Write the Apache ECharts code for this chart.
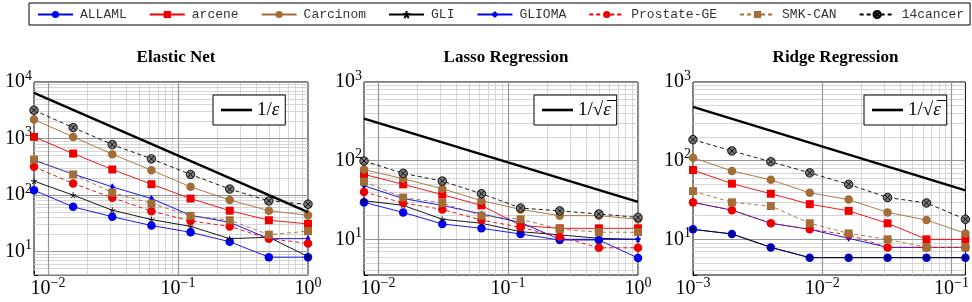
<!DOCTYPE html>
<html>
<head>
<meta charset="utf-8">
<script src="https://cdn.jsdelivr.net/npm/echarts@6/dist/echarts.min.js"></script>
<style>
html, body { margin: 0; padding: 0; background: #fff; }
#main { width: 972px; height: 302px; }
</style>
</head>
<body>
<div id="main"></div>
<script>
// step sizes on the x axis
var epsEN = [0.0078125, 0.015625, 0.03125, 0.0625, 0.125, 0.25, 0.5, 1];
var epsLasso = [0.0078125, 0.015625, 0.03125, 0.0625, 0.125, 0.25, 0.5, 1];
var epsRidge = [0.001, 0.002, 0.004, 0.008, 0.016, 0.032, 0.064, 0.128];

var datasetNames = ['ALLAML', 'arcene', 'Carcinom', 'GLI', 'GLIOMA', 'Prostate-GE', 'SMK-CAN', '14cancer'];

// Elastic Net
var enALLAML   = [122, 62, 41.5, 29, 22, 15, 8, 8];
var enArcene   = [1070, 543, 284, 156, 87, 53, 36, 31];
var enCarcinom = [2165, 1070, 530, 276, 140, 82, 53, 44];
var enGLI      = [177, 100, 54, 37, 28, 17, 18, 8.2];
var enGLIOMA   = [415, 235, 140, 87, 44, 33, 17, 17];
var enProstate = [316, 161, 90, 52, 35, 28, 17, 14];
var enSMK      = [426, 232, 111, 71, 43, 36, 20, 23];
var en14cancer = [3162, 1563, 783, 437, 232, 128, 79, 69];
var enRef      = [6400, 50];   // 1/eps guide, at first and last step

// Lasso Regression
var laALLAML   = [29.5, 22, 15.7, 13.8, 11.7, 9.8, 9.8, 5.8];
var laArcene   = [67, 50, 37, 27, 15, 13.8, 13.8, 13.8];
var laCarcinom = [77, 59, 44, 31, 24, 20, 20, 18];
var laGLI      = [31, 27, 18, 16, 12.5, 11.4, 10.3, 10];
var laGLIOMA   = [48, 33, 27, 21, 16.4, 10, 10, 10];
var laProstate = [40, 29, 24, 17.6, 14.2, 10.8, 7.8, 7.8];
var laSMK      = [54, 34, 29, 20, 18, 13.5, 12.3, 12.3];
var la14cancer = [99, 69, 55, 38, 25, 23, 21, 19];
var laRef      = [343, 30];

// Ridge Regression
var riALLAML   = [13.4, 11.7, 7.9, 5.85, 5.85, 5.85, 5.85, 5.85];
var riArcene   = [76, 51, 38, 28, 23, 16, 10, 10];
var riCarcinom = [109, 74, 57, 39, 32, 22, 17.6, 11.9];
var riGLI      = [13.4, 11.7, 7.9, 5.85, 5.85, 5.85, 5.85, 5.85];
var riGLIOMA   = [29.5, 23.5, 16, 13.4, 10.3, 7.9, 7.9, 7.9];
var riProstate = [29.5, 23.5, 16, 13.4, 11.4, 7.9, 7.9, 7.9];
var riSMK      = [41, 29.5, 26.5, 16, 11.9, 10, 7.9, 7.9];
var ri14cancer = [185, 133, 97, 70, 50, 34, 29, 18];
var riRef      = [482, 42];

var BLUE = '#0000ee', RED = '#ee0000', BROWN = '#a36d37';
var OTIMES = 'path://M10,0A10,10 0 1 1 -10,0A10,10 0 1 1 10,0ZM-7.07,-7.07L7.07,7.07M-7.07,7.07L7.07,-7.07';
var STAR = 'path://M0,-10L0,0M0,0L9.51,-3.09M0,0L5.88,8.09M0,0L-5.88,8.09M0,0L-9.51,-3.09';

var looks = {
    'ALLAML':      {color: BLUE,  symbol: 'circle', size: 8.5, dash: 'solid'},
    'arcene':      {color: RED,   symbol: 'rect', size: 8, dash: 'solid'},
    'Carcinom':    {color: BROWN, symbol: 'circle', size: 8.5, dash: 'solid'},
    'GLI':         {color: '#000', symbol: STAR, size: 6, dash: 'solid', stroke: '#000'},
    'GLIOMA':      {color: BLUE,  symbol: 'diamond', size: [5, 7], dash: 'solid'},
    'Prostate-GE': {color: RED,   symbol: 'circle', size: 8.5, dash: [4, 3]},
    'SMK-CAN':     {color: BROWN, symbol: 'rect', size: 8, dash: [4, 3]},
    '14cancer':    {color: '#000', symbol: OTIMES, size: 8.5, dash: [4, 3], fill: '#7a7a7a', stroke: '#000'}
};

var panels = [
    {title: 'Elastic Net', xs: epsEN, ymin: 3.87, ymax: 10000, refName: '1/ε', ref: enRef, keyLeft: 213,
     rows: [enALLAML, enArcene, enCarcinom, enGLI, enGLIOMA, enProstate, enSMK, en14cancer],
     box: {left: 34, top: 82, width: 274, height: 193}},
    {title: 'Lasso Regression', xs: epsLasso, ymin: 3.52, ymax: 1000, refName: '1/√ε', ref: laRef, keyLeft: 534,
     rows: [laALLAML, laArcene, laCarcinom, laGLI, laGLIOMA, laProstate, laSMK, la14cancer],
     box: {left: 364, top: 82, width: 274, height: 193}},
    {title: 'Ridge Regression', xs: epsRidge, ymin: 3.52, ymax: 1000, refName: '1/√ε', ref: riRef, keyLeft: 864,
     rows: [riALLAML, riArcene, riCarcinom, riGLI, riGLIOMA, riProstate, riSMK, ri14cancer],
     box: {left: 693, top: 82, width: 275, height: 193}}
];

function powLabel(v) {
    var e = Math.log10(v), r = Math.round(e);
    if (Math.abs(e - r) > 1e-6) return '';
    return '{b|10}{s|' + (r < 0 ? '\u2212' + (-r) : r) + '}';
}
var labelRich = {
    b: {fontFamily: 'Liberation Serif', fontSize: 20, color: '#000', lineHeight: 26},
    s: {fontFamily: 'Liberation Serif', fontSize: 14, color: '#000', verticalAlign: 'top', lineHeight: 15}
};

// gridlines at k*10^n, k = 1..9
function logLines(min, max) {
    var major = [], minor = [];
    for (var e = Math.floor(Math.log10(min)); e <= Math.ceil(Math.log10(max)); e++) {
        for (var k = 1; k < 10; k++) {
            var v = k * Math.pow(10, e);
            if (v < min * 0.999 || v > max * 1.001) continue;
            (k === 1 ? major : minor).push(v);
        }
    }
    return {major: major, minor: minor};
}

var grids = [], xAxes = [], yAxes = [], titles = [], series = [];
var legends = [{
    data: datasetNames,
    left: 29, top: 3, width: 960,
    padding: [5, 6, 4, 8],
    borderColor: '#000', borderWidth: 1,
    itemWidth: 35, itemHeight: 9, itemGap: 22,
    textStyle: {fontFamily: 'Liberation Mono', fontSize: 13, color: '#333', padding: [0, 0, 0, 2]}
}];

panels.forEach(function (p, i) {
    var xmin = p.xs[0], xmax = p.xs[p.xs.length - 1];
    grids.push({left: p.box.left, top: p.box.top, width: p.box.width, height: p.box.height,
        show: true, borderColor: '#000', borderWidth: 1, backgroundColor: '#fff'});
    titles.push({text: p.title, left: p.box.left + p.box.width / 2, top: 44, textAlign: 'center',
        textStyle: {fontFamily: 'Liberation Serif', fontWeight: 'bold', fontSize: 17, color: '#000'}});
    xAxes.push({type: 'log', logBase: 10, gridIndex: i, min: xmin, max: xmax,
        axisLine: {show: false}, splitLine: {show: false},
        axisTick: {show: true, inside: true, length: 4, lineStyle: {color: '#000'}},
        axisLabel: {formatter: powLabel, rich: labelRich, margin: 1, showMinLabel: true, showMaxLabel: true}});
    yAxes.push({type: 'log', logBase: 10, gridIndex: i, min: p.ymin, max: p.ymax,
        axisLine: {show: false}, splitLine: {show: false},
        axisTick: {show: true, inside: true, length: 4, lineStyle: {color: '#000'}},
        axisLabel: {formatter: powLabel, rich: labelRich, margin: 2}});

    var gx = logLines(xmin, xmax), gy = logLines(p.ymin, p.ymax);
    var minorData = gx.minor.map(function (v) { return {xAxis: v}; })
        .concat(gy.minor.map(function (v) { return {yAxis: v}; }));
    var majorData = gx.major.map(function (v) { return {xAxis: v}; })
        .concat(gy.major.map(function (v) { return {yAxis: v}; }));
    [[minorData, '#cccccc', 0.8], [majorData, '#959595', 1.2]].forEach(function (g) {
        series.push({type: 'line', xAxisIndex: i, yAxisIndex: i, data: [], silent: true, z: 1,
            markLine: {silent: true, z: 1, animation: false, symbol: ['none', 'none'], label: {show: false},
                lineStyle: {color: g[1], width: g[2], type: 'solid'}, emphasis: {disabled: true}, data: g[0]}});
    });

    datasetNames.forEach(function (name, j) {
        var lk = looks[name];
        series.push({
            name: name, type: 'line', xAxisIndex: i, yAxisIndex: i, z: 3,
            data: p.xs.map(function (x, k) { return [x, p.rows[j][k]]; }),
            symbol: lk.symbol, symbolSize: lk.size, showAllSymbol: true,
            itemStyle: {color: lk.fill || lk.color, borderColor: lk.stroke || lk.color, borderWidth: lk.stroke ? 0.9 : 0},
            lineStyle: {color: lk.color, width: 0.9, type: lk.dash},
            emphasis: {disabled: true}
        });
    });

    series.push({
        name: p.refName, type: 'line', xAxisIndex: i, yAxisIndex: i, z: 4,
        data: [[xmin, p.ref[0]], [xmax, p.ref[1]]],
        symbol: 'none', lineStyle: {color: '#000', width: 2.4},
        emphasis: {disabled: true}
    });

    legends.push({
        data: [p.refName],
        left: p.keyLeft, top: 95,
        padding: [5, 6, 5, 8],
        borderColor: '#000', borderWidth: 1, backgroundColor: '#fff',
        icon: 'rect', itemWidth: 31, itemHeight: 2.6,
        itemStyle: {color: '#000', borderWidth: 0},
        formatter: function (n) { return n === '1/ε' ? '1/{i|ε}' : '1/√{i|ε\u0305}'; },
        textStyle: {fontFamily: 'Liberation Serif', fontSize: 19, color: '#000', lineHeight: 20,
            rich: {i: {fontFamily: 'Liberation Serif', fontStyle: 'italic', fontSize: 19, color: '#000', lineHeight: 20}}}
    });
});

var chart = echarts.init(document.getElementById('main'));
chart.setOption({
    animation: false,
    title: titles,
    legend: legends,
    grid: grids,
    xAxis: xAxes,
    yAxis: yAxes,
    series: series
});
</script>
</body>
</html>
